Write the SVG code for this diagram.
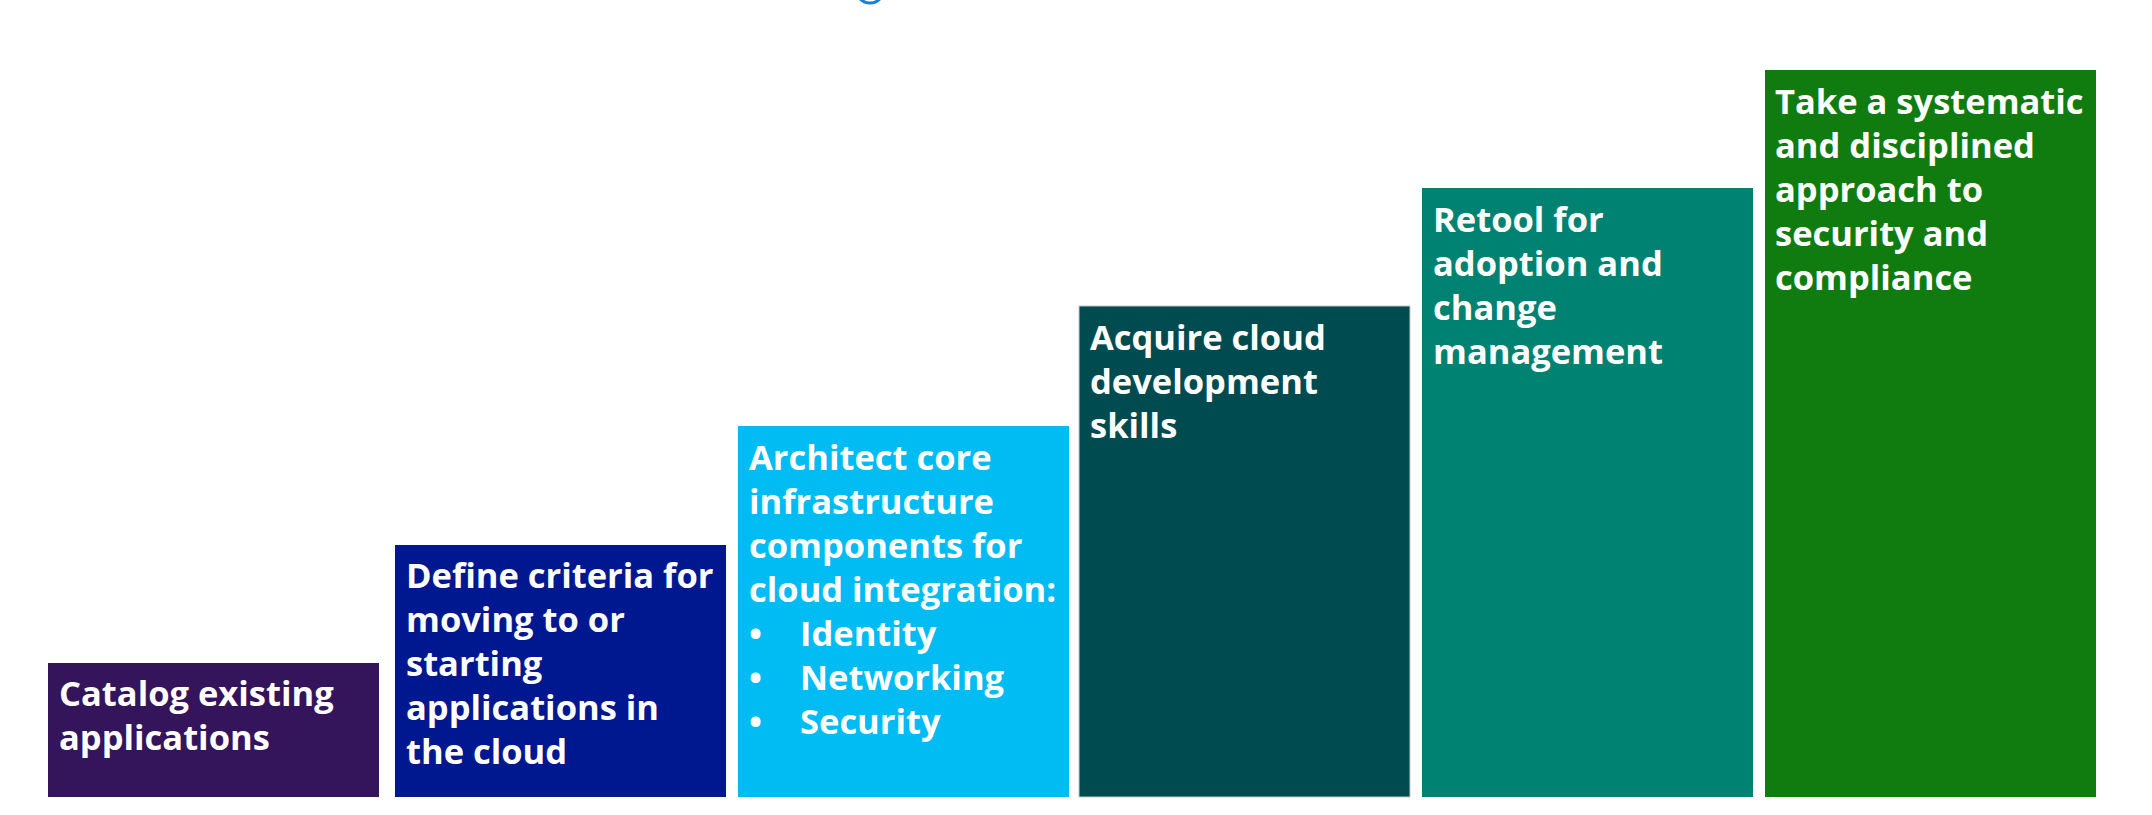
<svg xmlns="http://www.w3.org/2000/svg" width="2152" height="815" viewBox="0 0 2152 815">
<style>
.t{font-family:"Open Sans","Liberation Sans",sans-serif;font-weight:700;font-size:34.5px;fill:#ffffff;}
</style>
<rect width="2152" height="815" fill="#ffffff"/>
<g id="connectors"></g>
<circle cx="870" cy="-11" r="14" fill="none" stroke="#1a7fd8" stroke-width="3"/>
<g id="step1">
<rect x="48" y="663" width="331" height="134" fill="#34145a"/>
<text class="t"><tspan x="59" y="706">Catalog existing</tspan><tspan x="59" y="750">applications</tspan></text>
</g>
<g id="step2">
<rect x="395" y="545" width="331" height="252" fill="#00188f"/>
<text class="t"><tspan x="406" y="588">Define criteria for</tspan><tspan x="406" y="632">moving to or</tspan><tspan x="406" y="676">starting</tspan><tspan x="406" y="720">applications in</tspan><tspan x="406" y="764">the cloud</tspan></text>
</g>
<g id="step3">
<rect x="738" y="426" width="331" height="371" fill="#00bcf2"/>
<text class="t"><tspan x="749" y="470">Architect core</tspan><tspan x="749" y="514">infrastructure</tspan><tspan x="749" y="558">components for</tspan><tspan x="749" y="602">cloud integration:</tspan></text>
<text class="t"><tspan x="749" y="646">•</tspan><tspan x="800" y="646">Identity</tspan><tspan x="749" y="690">•</tspan><tspan x="800" y="690">Networking</tspan><tspan x="749" y="734">•</tspan><tspan x="800" y="734">Security</tspan></text>
</g>
<g id="step4">
<rect x="1079" y="306" width="331" height="491" fill="#004b50" stroke="#c8c8c8" stroke-width="1"/>
<text class="t"><tspan x="1090" y="350">Acquire cloud</tspan><tspan x="1090" y="394">development</tspan><tspan x="1090" y="438">skills</tspan></text>
</g>
<g id="step5">
<rect x="1422" y="188" width="331" height="609" fill="#008272"/>
<text class="t"><tspan x="1433" y="232">Retool for</tspan><tspan x="1433" y="276">adoption and</tspan><tspan x="1433" y="320">change</tspan><tspan x="1433" y="364">management</tspan></text>
</g>
<g id="step6">
<rect x="1765" y="70" width="331" height="727" fill="#107c10"/>
<text class="t"><tspan x="1775" y="114">Take a systematic</tspan><tspan x="1775" y="158">and disciplined</tspan><tspan x="1775" y="202">approach to</tspan><tspan x="1775" y="246">security and</tspan><tspan x="1775" y="290">compliance</tspan></text>
</g>
</svg>
